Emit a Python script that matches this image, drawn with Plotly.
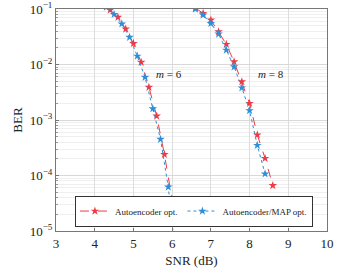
import plotly.graph_objects as go

# m = 6 curves
snr6_ae = [4.4, 4.6, 4.8, 5.0, 5.2, 5.4, 5.6, 5.8, 6.0]
ber6_ae = [0.096, 0.071, 0.0436, 0.024, 0.011, 0.0039, 0.00118, 2.4e-4, 3.7e-5]
snr6_map = [4.3, 4.5, 4.7, 4.9, 5.1, 5.3, 5.5, 5.7, 5.9, 6.1]
ber6_map = [0.108, 0.080, 0.054, 0.031, 0.0142, 0.0059, 0.0016, 4.5e-4, 6.2e-5, 3e-6]

# m = 8 curves
snr8_ae = [6.6, 6.8, 7.0, 7.2, 7.4, 7.6, 7.8, 8.0, 8.2, 8.4, 8.6]
ber8_ae = [0.104, 0.0837, 0.0634, 0.039, 0.0231, 0.0112, 0.0049, 0.0020, 5.4e-4, 2.04e-4, 6.6e-5]
snr8_map = [6.6, 6.8, 7.0, 7.2, 7.4, 7.6, 7.8, 8.0, 8.2, 8.4]
ber8_map = [0.1, 0.078, 0.055, 0.0355, 0.0182, 0.0091, 0.0038, 0.00148, 3.5e-4, 1.07e-4]

x_ticks = [3, 4, 5, 6, 7, 8, 9, 10]
y_exps = [-5, -4, -3, -2, -1]
y_tick_text = ["10<sup>\u2212%d</sup>" % (-e) for e in y_exps]

RED = "#ee3b45"
BLUE = "#2f8fd6"
FONT = "Liberation Serif, DejaVu Serif, serif"

y_major = [10.0 ** e for e in y_exps]
y_minor = [k * 10.0 ** e for e in y_exps[:-1] for k in range(2, 10)]

fig = go.Figure()

def add(x, y, color, dash, name, show):
    fig.add_trace(go.Scatter(
        x=x, y=y, mode="lines+markers", name=name, showlegend=show,
        legendgroup=name,
        line=dict(color=color, width=1, dash=dash),
        marker=dict(symbol="star", size=6.5, color=color,
                    line=dict(width=0)),
    ))

add(snr6_ae, ber6_ae, RED, "dash", "Autoencoder opt.", True)
add(snr6_map, ber6_map, BLUE, "dot", "Autoencoder/MAP opt.", True)
add(snr8_ae, ber8_ae, RED, "dash", "Autoencoder opt.", False)
add(snr8_map, ber8_map, BLUE, "dot", "Autoencoder/MAP opt.", False)

fig.add_annotation(x=5.93, y=-2.17, xref="x", yref="y", showarrow=False,
                   text="<i>m</i> = 6", font=dict(family=FONT, size=11, color="#222"))
fig.add_annotation(x=8.55, y=-2.17, xref="x", yref="y", showarrow=False,
                   text="<i>m</i> = 8", font=dict(family=FONT, size=11, color="#222"))

fig.update_layout(
    template="none",
    width=339, height=274,
    margin=dict(l=56, r=12, t=9, b=43, autoexpand=False),
    paper_bgcolor="white", plot_bgcolor="white",
    font=dict(family=FONT, size=13, color="#222"),
    legend=dict(orientation="h", x=0.509, y=0.02, xanchor="center", yanchor="bottom",
                bgcolor="white", bordercolor="#333", borderwidth=1,
                font=dict(family=FONT, size=9, color="#222"),
                itemwidth=30, tracegroupgap=0),
)
fig.update_xaxes(
    range=[3, 10], tickmode="array", tickvals=x_ticks, automargin=False,
    showline=True, linecolor="#777", linewidth=1, mirror=True,
    showgrid=True, gridcolor="#dddddd", gridwidth=1,
    ticks="inside", ticklen=3, tickcolor="#777",
    zeroline=False, tickfont=dict(size=13),
    title=dict(text="SNR (dB)", font=dict(family=FONT, size=13), standoff=6),
)
fig.update_yaxes(
    type="log", range=[-5, -1], tickmode="array", tickvals=y_major, ticktext=y_tick_text,
    automargin=False,
    showline=True, linecolor="#777", linewidth=1, mirror=True,
    showgrid=True, gridcolor="#d8d8d8", gridwidth=1,
    ticks="inside", ticklen=3, tickcolor="#777",
    minor=dict(tickmode="array", tickvals=y_minor, showgrid=True,
               gridcolor="#efefef", ticks="inside", ticklen=2, tickcolor="#999"),
    zeroline=False, tickfont=dict(size=13),
    title=dict(text="BER", font=dict(family=FONT, size=13), standoff=4),
)

fig.write_html("out.html", config={"displayModeBar": False},
               post_script="document.body.style.margin='0';document.body.style.padding='0';")
